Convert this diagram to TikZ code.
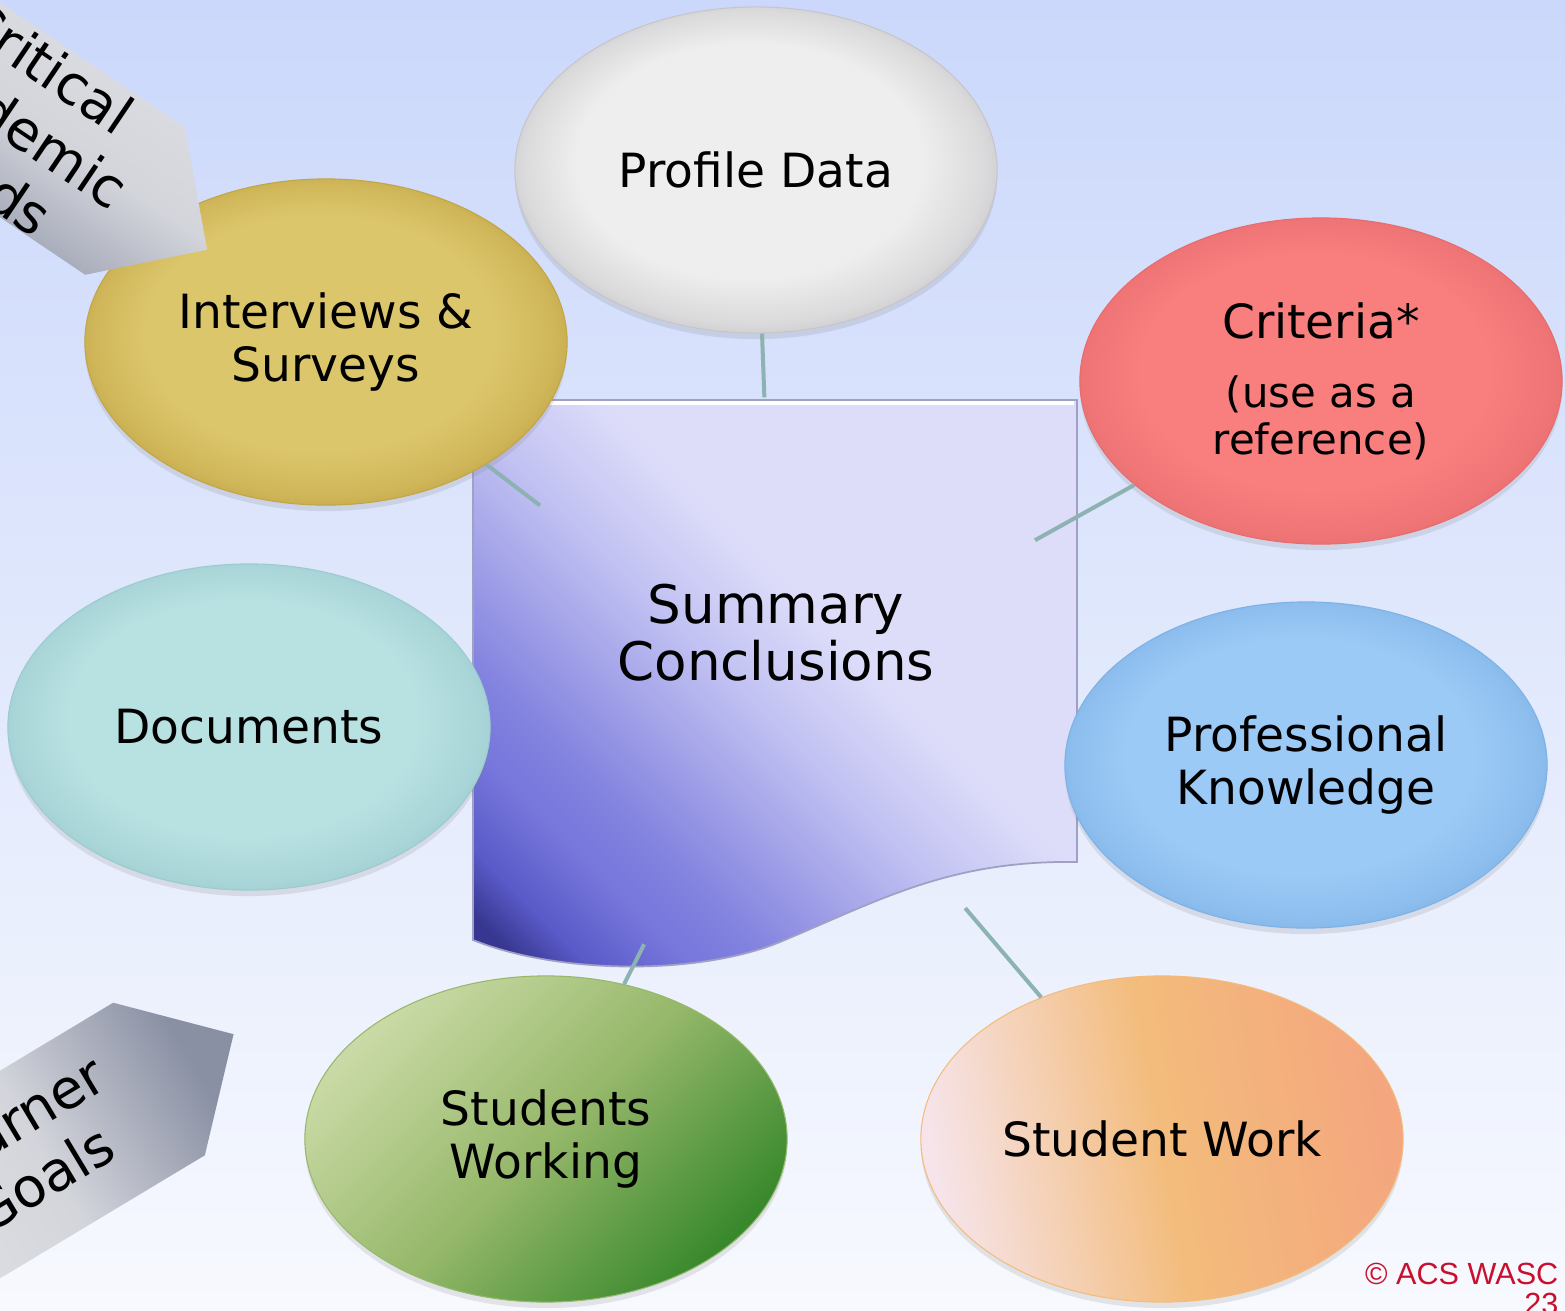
\documentclass[tikz,border=0pt]{standalone}
\usepackage{fontspec}
\setmainfont{DejaVu Sans}
\newfontfamily\arialfont{Liberation Sans}
\usepackage{tikz}
\usetikzlibrary{shapes.geometric}
\usetikzlibrary{shadows}
\usetikzlibrary{positioning}

\definecolor{bgtop}{RGB}{203,216,251}
\definecolor{bgbot}{RGB}{247,249,254}
\definecolor{spokecol}{RGB}{140,178,178}
\definecolor{profin}{RGB}{238,238,238}
\definecolor{profout}{RGB}{198,198,201}
\definecolor{intvin}{RGB}{220,198,108}
\definecolor{intvout}{RGB}{194,166,70}
\definecolor{critin}{RGB}{249,126,126}
\definecolor{critout}{RGB}{230,108,110}
\definecolor{docsin}{RGB}{184,225,226}
\definecolor{docsout}{RGB}{156,203,207}
\definecolor{knowin}{RGB}{156,202,246}
\definecolor{knowout}{RGB}{126,178,230}
\definecolor{stwktop}{RGB}{202,218,166}
\definecolor{stwkmid}{RGB}{150,184,106}
\definecolor{stwkbot}{RGB}{56,136,44}
\definecolor{workl}{RGB}{246,228,234}
\definecolor{workm}{RGB}{243,188,124}
\definecolor{workr}{RGB}{244,166,126}
\definecolor{sumdark}{RGB}{55,55,145}
\definecolor{sumdeep}{RGB}{90,90,200}
\definecolor{summid}{RGB}{118,118,220}
\definecolor{sumblue}{RGB}{130,130,224}
\definecolor{sumsoft}{RGB}{160,160,232}
\definecolor{sumpale}{RGB}{194,194,243}
\definecolor{sumlight}{RGB}{221,221,250}
\definecolor{sumedge}{RGB}{160,160,196}
\definecolor{steelhi}{RGB}{224,225,229}
\definecolor{steello}{RGB}{138,144,164}
\definecolor{wascred}{RGB}{200,16,46}

\colorlet{glossin}{white}
\colorlet{glossout}{gray}
\pgfdeclareradialshading[glossin,glossout]{gloss}{\pgfpoint{-2bp}{4bp}}{color(0bp)=(glossin); color(18bp)=(glossin); color(24bp)=(glossout!50!glossin); color(27bp)=(glossout)}
\pgfdeclarehorizontalshading{sumshade}{100bp}{color(0bp)=(sumdark); color(18bp)=(sumdark); color(22bp)=(sumdeep); color(28bp)=(summid); color(33bp)=(sumblue); color(40bp)=(sumsoft); color(48bp)=(sumpale); color(57bp)=(sumlight); color(100bp)=(sumlight)}

\newcommand\refsize{\fontsize{11.9}{13.1}\selectfont}

\tikzset{
  blob/.style={ellipse, minimum width=4.82cm, minimum height=3.26cm, inner sep=0pt,
    align=center, font=\fontsize{13.4}{14.8}\selectfont,
    drop shadow={opacity=0.18, shadow xshift=0pt, shadow yshift=-0.06cm}},
  gloss/.style 2 args={blob, /utils/exec={\colorlet{glossin}{#1}\colorlet{glossout}{#2}},
    shade, shading=gloss, draw=#2, line width=0.3pt},
  spoke/.style={draw=spokecol, line width=0.04cm},
  steel/.style={top color=steelhi, bottom color=steello, middle color=steelhi!85!steello},
  tag/.style={align=center, font=\fontsize{15.6}{18.5}\selectfont, inner sep=0pt}
}

\begin{document}
\begin{tikzpicture}[x=0.01cm, y=-0.01cm]
    \useasboundingbox (0,0) rectangle (1565,1311);
    \clip (0,0) rectangle (1565,1311);
    \shade[top color=bgtop, bottom color=bgbot] (0,0) rectangle (1565,1311);

    \shade[shading=sumshade, shading angle=45, draw=sumedge, line width=0.5pt]
        (473,400) -- (1077,400) -- (1077,862)
        .. controls (950,860) and (880,900) .. (780,942)
        .. controls (700,975) and (560,975) .. (473,940) -- cycle;
    \draw[white, line width=0.04cm] (476,403) -- (1074,403);
    \node[align=center, font=\fontsize{15.1}{16.2}\selectfont] (sum) at (776,633) {Summary\\Conclusions};

    \node[gloss={profin}{profout}] (prof) at (756,170) {Profile Data};
    \node[gloss={intvin}{intvout}] (intv) at (326,342) {Interviews \&\\Surveys};
    \node[gloss={critin}{critout}] (crit) at (1321,381) {Criteria*\\[0.17cm]{\refsize (use as a}\\[-0.05cm]{\refsize reference)}};
    \node[gloss={docsin}{docsout}] (docs) at (249,727) {Documents};
    \node[gloss={knowin}{knowout}] (know) at (1306,765) {Professional\\Knowledge};
    \node[blob, top color=stwktop, bottom color=stwkbot, middle color=stwkmid, shading angle=45,
        draw=stwkmid, line width=0.3pt] (stwk) at (546,1139) {Students\\Working};
    \node[blob, left color=workl, right color=workr, middle color=workm, shading angle=100,
        draw=workm, line width=0.3pt] (work) at (1162,1139) {Student Work};

    \node[ellipse, minimum width=6cm, minimum height=5.74cm] (hub) at (775,685) {};
    \draw[spoke] (hub) -- (prof);
    \draw[spoke] (hub) -- (intv);
    \draw[spoke] (hub) -- (crit);
    \draw[spoke] (hub) -- (stwk);
    \draw[spoke] (hub) -- (work);

    \begin{scope}[shift={(135,201)}, rotate=-34]
        \shade[steel, shading angle=-34] (-300,-89) -- (0,-89) -- (87,0) -- (0,89) -- (-300,89) -- cycle;
        \node[tag, rotate=-34] (needs) at (-148,2) {Critical\\Academic\\Needs};
    \end{scope}
    \begin{scope}[shift={(159,1079)}, rotate=31]
        \shade[steel, shading angle=121] (-300,-89) -- (0,-89) -- (87,0) -- (0,89) -- (-300,89) -- cycle;
        \node[tag, rotate=31] (goals) at (-151,-6) {Learner\\Goals};
    \end{scope}

    \node[anchor=north east, align=right, inner sep=0pt, text=wascred,
        font=\arialfont\fontsize{8.7}{8.7}\selectfont] (copy) at (1559,1262) {© ACS WASC\\23};
\end{tikzpicture}
\end{document}
